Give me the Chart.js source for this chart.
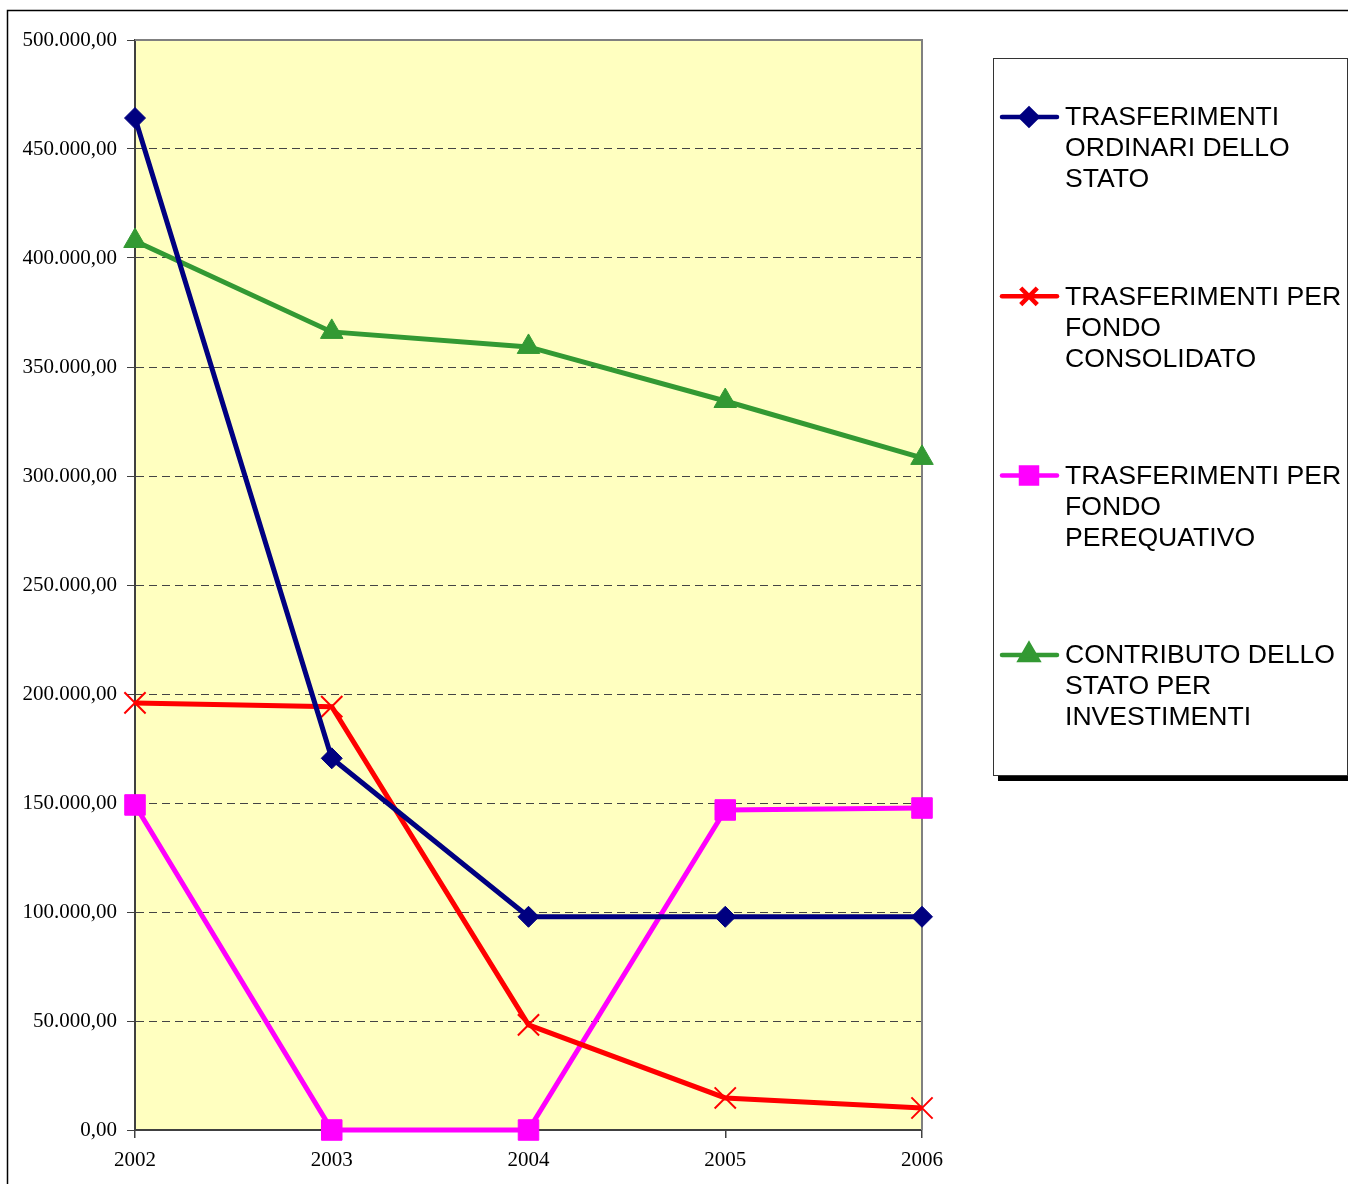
<!DOCTYPE html>
<html>
<head>
<meta charset="utf-8">
<script src="https://cdn.jsdelivr.net/npm/chart.js@4/dist/chart.umd.min.js"></script>
<style>
  html, body { margin: 0; padding: 0; background: #fff; }
  #wrap { position: relative; width: 1348px; height: 1184px; }
</style>
</head>
<body>
<div id="wrap"><canvas id="chart" width="1348" height="1184"></canvas></div>
<script>
// years on the x axis
const years = ['2002', '2003', '2004', '2005', '2006'];

// series values (euro)
const ordinari = [464200, 170500, 97800, 97800, 97800];
const consolidato = [195900, 194200, 48200, 14700, 10100];
const perequativo = [149100, 0, 0, 146800, 147700];
const investimenti = [407800, 366100, 359200, 334400, 308300];

const legendLabels = [
  ['TRASFERIMENTI', 'ORDINARI DELLO', 'STATO'],
  ['TRASFERIMENTI PER', 'FONDO', 'CONSOLIDATO'],
  ['TRASFERIMENTI PER', 'FONDO', 'PEREQUATIVO'],
  ['CONTRIBUTO DELLO', 'STATO PER', 'INVESTIMENTI']
];

function fmtIt(v) {
  const int = Math.round(v).toString().replace(/\B(?=(\d{3})+(?!\d))/g, '.');
  return int + ',00';
}

// page frame, plot background and borders
const framePlugin = {
  id: 'frame',
  beforeDraw(chart) {
    const ctx = chart.ctx;
    const a = chart.chartArea;
    ctx.save();
    ctx.strokeStyle = '#000';
    ctx.lineWidth = 1.5;
    ctx.strokeRect(7.5, 10.5, 1400, 1400);
    ctx.fillStyle = '#FFFFC0';
    ctx.fillRect(a.left, a.top, a.right - a.left, a.bottom - a.top);
    ctx.restore();
  },
  beforeDatasetsDraw(chart) {
    const ctx = chart.ctx;
    const a = chart.chartArea;
    ctx.save();
    ctx.strokeStyle = '#808080';
    ctx.lineWidth = 2;
    ctx.beginPath();
    ctx.moveTo(a.left, a.top);
    ctx.lineTo(a.right, a.top);
    ctx.lineTo(a.right, a.bottom);
    ctx.stroke();
    ctx.restore();
  }
};

// legend box with multi-line labels
const boxLegend = {
  id: 'boxLegend',
  afterDraw(chart) {
    const ctx = chart.ctx;
    const bx = 993, by = 58, bw = 354, bh = 717;
    ctx.save();
    ctx.fillStyle = '#000';
    ctx.fillRect(bx + 5, by + bh + 1, bw + 10, 5);
    ctx.fillRect(bx + bw + 1, by + 5, 6, bh);
    ctx.fillStyle = '#fff';
    ctx.fillRect(bx, by, bw, bh);
    ctx.strokeStyle = '#333';
    ctx.lineWidth = 1;
    ctx.strokeRect(bx + 0.5, by + 0.5, bw, bh);

    ctx.font = '26.6px "Liberation Sans", Arial, sans-serif';
    ctx.textBaseline = 'middle';
    chart.data.datasets.forEach((ds, i) => {
      const y = 117 + i * 179.3;
      ctx.strokeStyle = ds.borderColor;
      ctx.lineWidth = 4.5;
      ctx.lineCap = 'round';
      ctx.beginPath();
      ctx.moveTo(1002, y);
      ctx.lineTo(1057, y);
      ctx.stroke();
      ctx.lineCap = 'butt';
      ctx.fillStyle = ds.pointBackgroundColor;
      ctx.strokeStyle = ds.pointBorderColor;
      Chart.helpers.drawPoint(ctx, {
        pointStyle: ds.pointStyle,
        radius: ds.pointRadius * 0.78,
        borderWidth: ds.pointBorderWidth || 1,
        rotation: 0
      }, 1029, y);
      ctx.fillStyle = '#000';
      legendLabels[i].forEach((t, k) => {
        ctx.fillText(t, 1065, y + 1 + k * 31);
      });
    });
    ctx.restore();
  }
};

const ds = (label, data, color, style, radius, bw) => ({
  label, data,
  borderColor: color,
  backgroundColor: color,
  pointBackgroundColor: color,
  pointBorderColor: color,
  pointStyle: style,
  pointRadius: radius,
  pointHoverRadius: radius,
  pointBorderWidth: bw,
  borderWidth: 5,
  tension: 0,
  clip: false
});

new Chart(document.getElementById('chart'), {
  type: 'line',
  data: {
    labels: years,
    datasets: [
      ds('TRASFERIMENTI ORDINARI DELLO STATO', ordinari, '#000080', 'rectRot', 10.5, 1),
      ds('TRASFERIMENTI PER FONDO CONSOLIDATO', consolidato, '#FF0000', 'crossRot', 15, 2),
      ds('TRASFERIMENTI PER FONDO PEREQUATIVO', perequativo, '#FF00FF', 'rect', 14.5, 1),
      ds('CONTRIBUTO DELLO STATO PER INVESTIMENTI', investimenti, '#339933', 'triangle', 13, 1)
    ]
  },
  options: {
    responsive: false,
    animation: false,
    layout: { padding: { left: 0, top: 40, right: 426, bottom: 0 } },
    plugins: { legend: { display: false }, tooltip: { enabled: false } },
    scales: {
      x: {
        offset: false,
        afterFit(scale) { scale.height = 54; },
        grid: {
          color: 'rgba(0,0,0,0)',
          tickColor: '#404040',
          tickLength: 8,
          lineWidth: 1.5
        },
        border: { color: '#404040', width: 2 },
        ticks: {
          color: '#000',
          padding: 10,
          maxRotation: 0,
          font: { family: '"Liberation Serif", "Times New Roman", serif', size: 21 }
        }
      },
      y: {
        min: 0,
        max: 500000,
        afterFit(scale) { scale.width = 135; },
        grid: {
          color: c => (c.tick.value === 0 || c.tick.value === 500000) ? 'rgba(0,0,0,0)' : '#444',
          tickColor: '#404040',
          tickBorderDash: [],
          tickLength: 8,
          lineWidth: 1
        },
        border: { color: '#404040', width: 2, dash: [8, 5] },
        ticks: {
          stepSize: 50000,
          color: '#000',
          padding: 10,
          font: { family: '"Liberation Serif", "Times New Roman", serif', size: 21 },
          callback: v => fmtIt(v)
        }
      }
    }
  },
  plugins: [framePlugin, boxLegend]
});
</script>
</body>
</html>
